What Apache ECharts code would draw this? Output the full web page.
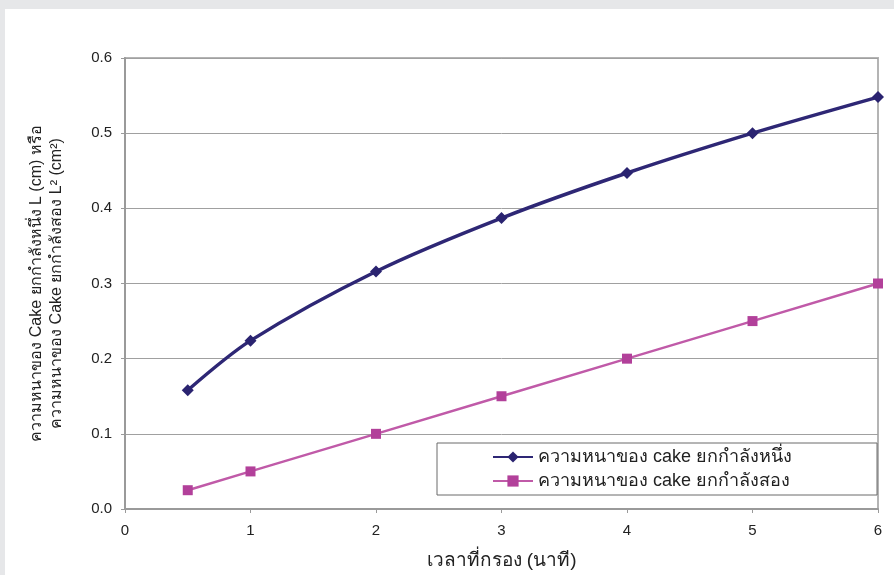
<!DOCTYPE html>
<html>
<head>
<meta charset="utf-8">
<script src="https://cdn.jsdelivr.net/npm/echarts@6/dist/echarts.min.js"></script>
<style>
  html, body { margin: 0; padding: 0; background: #e6e7e9; }
  #wrap { position: absolute; left: 5px; top: 9px; right: 0; bottom: 0; background: #fff; }
  #chart { position: absolute; left: 0; top: 0; width: 894px; height: 575px; }
</style>
</head>
<body>
<div id="wrap"></div>
<div id="chart"></div>
<script>
// ข้อมูลกราฟ
var xTimes = [0.5, 1, 2, 3, 4, 5, 6];
var thickL = [0.158, 0.224, 0.316, 0.387, 0.447, 0.500, 0.548];   // L (cm)
var thickL2 = [0.025, 0.050, 0.100, 0.150, 0.200, 0.250, 0.300];  // L^2 (cm^2)
var seriesNames = ['ความหนาของ cake ยกกำลังหนึ่ง', 'ความหนาของ cake ยกกำลังสอง'];
var xTitle = 'เวลาที่กรอง (นาที)';
var yTitle = 'ความหนาของ Cake ยกกำลังหนึ่ง L (cm) หรือ\nความหนาของ Cake ยกกำลังสอง L² (cm²)';

var FONT = 'Liberation Sans, Arial, DejaVu Sans, Noto Sans, sans-serif';

function pairs(xs, ys) {
    var out = [];
    for (var i = 0; i < xs.length; i++) out.push([xs[i], ys[i]]);
    return out;
}

var myChart = echarts.init(document.getElementById('chart'));
myChart.setOption({
    animation: false,
    textStyle: { fontFamily: FONT },
    grid: {
        left: 125, right: 16, top: 58, bottom: 65,
        show: true, borderColor: '#b4b4b4', borderWidth: 2
    },
    xAxis: {
        type: 'value', min: 0, max: 6, interval: 1,
        name: xTitle, nameLocation: 'middle', nameGap: 42,
        nameTextStyle: { fontSize: 19, color: '#222', fontFamily: FONT },
        axisLine: { show: true, lineStyle: { color: '#9a9a9a', width: 2 } },
        axisTick: { show: true, length: 4, lineStyle: { color: '#9a9a9a' } },
        axisLabel: { fontSize: 15, color: '#222', margin: 14 },
        splitLine: { show: false }
    },
    yAxis: {
        type: 'value', min: 0, max: 0.6, interval: 0.1,
        name: yTitle, nameLocation: 'middle', nameGap: 58, nameRotate: 90,
        nameTextStyle: { fontSize: 16, color: '#222', lineHeight: 20, fontFamily: FONT },
        axisLine: { show: true, lineStyle: { color: '#9a9a9a', width: 2 } },
        axisTick: { show: true, length: 4, lineStyle: { color: '#9a9a9a' } },
        axisLabel: {
            fontSize: 15, color: '#222', margin: 13,
            formatter: function (v) { return v.toFixed(1); }
        },
        splitLine: { show: true, lineStyle: { color: '#a0a0a0', width: 1 } }
    },
    legend: {
        orient: 'vertical', left: 437, top: 443,
        padding: [5, 85, 5, 55], itemGap: 6,
        itemWidth: 40, itemHeight: 14,
        borderColor: '#6a6a6a', borderWidth: 1, backgroundColor: '#fff',
        textStyle: { fontSize: 18, color: '#222', fontFamily: FONT },
        data: seriesNames
    },
    series: [
        {
            name: seriesNames[0], type: 'line', smooth: 0.3,
            data: pairs(xTimes, thickL),
            symbol: 'diamond', symbolSize: 12,
            lineStyle: { color: '#2e2775', width: 3.5 },
            itemStyle: { color: '#2a2370' }
        },
        {
            name: seriesNames[1], type: 'line',
            data: pairs(xTimes, thickL2),
            symbol: 'rect', symbolSize: 10,
            lineStyle: { color: '#c05aa8', width: 2.5 },
            itemStyle: { color: '#b2409a' }
        }
    ]
});
</script>
</body>
</html>
